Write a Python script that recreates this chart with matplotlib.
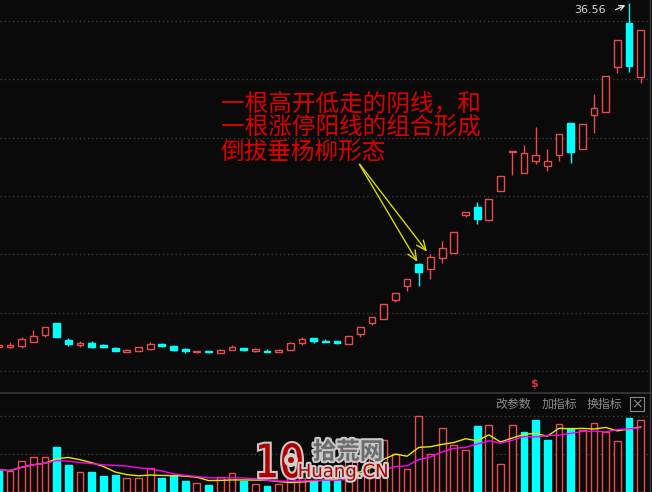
import numpy as np
import pandas as pd
import matplotlib
matplotlib.use("Agg")
import matplotlib.pyplot as plt
from matplotlib.patches import Rectangle, PathPatch, Circle
from matplotlib.textpath import TextPath
from matplotlib.font_manager import FontProperties
from matplotlib.transforms import Affine2D, IdentityTransform
import matplotlib.patheffects as pe

plt.rcParams['font.family'] = ['Noto Sans CJK SC', 'DejaVu Sans']

# daily bars, oldest first (first one is cut by the left edge)
opens = [7.08, 7.00, 7.15, 7.50, 8.07, 9.07, 7.67, 7.21, 7.39, 7.19,
         6.98, 6.64, 6.72, 6.87, 7.30, 7.13, 6.85, 6.62, 6.67, 6.55,
         6.78, 6.93, 6.70, 6.70, 6.61, 6.78, 7.39, 7.79, 7.56, 7.53,
         7.30, 8.16, 9.13, 9.44, 11.07, 12.27, 14.13, 13.71, 14.65, 15.08,
         18.34, 19.07, 17.93, 20.45, 23.79, 21.99, 23.02, 22.57, 23.48, 26.28,
         24.05, 26.98, 27.22, 31.03, 34.85, 30.22]
closes = [7.20, 7.21, 7.73, 7.99, 8.73, 7.90, 7.30, 7.39, 7.04, 7.03,
          6.72, 6.81, 7.04, 7.27, 7.13, 6.78, 6.72, 6.74, 6.59, 6.78,
          7.07, 6.78, 6.87, 6.61, 6.78, 7.36, 7.70, 7.58, 7.44, 7.39,
          8.01, 8.78, 9.64, 10.70, 11.70, 12.85, 13.47, 14.73, 15.51, 16.93,
          18.65, 17.99, 19.76, 21.71, 23.88, 23.65, 23.53, 23.02, 25.34, 23.79,
          26.17, 27.54, 30.26, 33.37, 31.17, 34.23]
highs = [7.30, 7.44, 7.90, 8.50, 8.73, 9.07, 7.79, 7.56, 7.56, 7.27,
         7.07, 6.90, 7.04, 7.44, 7.41, 7.24, 6.96, 6.74, 6.67, 6.90,
         7.24, 6.93, 6.93, 6.85, 6.87, 7.47, 7.87, 7.79, 7.73, 7.53,
         8.01, 8.78, 9.64, 10.70, 11.70, 12.85, 14.25, 15.02, 16.16, 16.93,
         18.65, 19.50, 19.76, 21.71, 23.88, 24.34, 25.94, 24.05, 25.34, 26.28,
         26.17, 28.74, 30.26, 33.37, 36.56, 34.23]
lows = [7.04, 6.98, 6.93, 7.50, 7.90, 7.90, 7.15, 7.07, 6.96, 6.98,
        6.72, 6.64, 6.72, 6.78, 7.02, 6.72, 6.55, 6.53, 6.50, 6.55,
        6.78, 6.67, 6.61, 6.61, 6.61, 6.78, 7.19, 7.36, 7.44, 7.27,
        7.30, 7.87, 8.90, 9.44, 10.90, 11.87, 12.27, 12.85, 14.22, 15.08,
        18.17, 17.59, 17.82, 20.45, 21.77, 21.99, 22.71, 22.11, 22.97, 22.85,
        24.05, 25.42, 27.22, 30.52, 30.65, 29.66]
volumes = [2.89, 2.76, 4.12, 4.57, 4.60, 5.88, 3.55, 2.63, 2.63, 2.11,
           2.24, 1.84, 1.84, 3.12, 1.84, 2.15, 1.49, 1.14, 0.92, 1.93,
           2.46, 1.49, 1.05, 0.79, 1.05, 1.84, 1.84, 1.58, 1.58, 1.58,
           4.43, 4.21, 4.47, 6.84, 5.00, 3.03, 10.00, 4.96, 8.38, 6.18,
           5.53, 8.68, 8.82, 3.68, 8.82, 7.86, 9.47, 6.84, 8.95, 8.46,
           8.16, 9.04, 7.86, 6.71, 9.70, 9.47]
prev_close = 7.30
high_label = "36.56"
note_lines = ["一根高开低走的阴线，和", "一根涨停阳线的组合形成", "倒拔垂杨柳形态"]
buttons = ["改参数", "加指标", "换指标"]

BG = '#0a0a0a'
RED = '#e84c4c'
CYAN = '#00ffff'
GRID = '#3c3c3c'
W, H = 652, 492

o = np.array(opens); c = np.array(closes)
h = np.array(highs); l = np.array(lows)
v = np.array(volumes)
n = len(o)
pos = np.arange(n)

fig = plt.figure(figsize=(W / 100, H / 100), dpi=100, facecolor=BG)


def box(x0, y0, x1, y1):
    return [x0 / W, 1 - y1 / H, (x1 - x0) / W, (y1 - y0) / H]


ax = fig.add_axes(box(0, 0, 649, 392), facecolor=BG)
axv = fig.add_axes(box(0, 393, 649, 492), facecolor=BG)

xlim = (0.144, 55.71)
for a in (ax, axv):
    a.set_xlim(*xlim)
    for s in a.spines.values():
        s.set_visible(False)
    a.tick_params(left=False, bottom=False, labelleft=False, labelbottom=False)
    a.grid(axis='y', color=GRID, linestyle=(0, (1, 2)), lw=1)
    a.set_axisbelow(True)

ax.set_ylim(3.182, 36.801)
ax.set_yticks(np.arange(5, 36, 5))
axv.set_ylim(0, 13.03)
axv.set_yticks([5, 10])

# candles
w = 0.58
for i in range(n):
    up = c[i] >= o[i]
    col = RED if up else CYAN
    top, bot = max(o[i], c[i]), min(o[i], c[i])
    if h[i] > top:
        ax.vlines(i, top, h[i], color=col, lw=1)
    if l[i] < bot:
        ax.vlines(i, l[i], bot, color=col, lw=1)
    if top - bot < 0.04:
        ax.hlines(top, i - w / 2, i + w / 2, color=col, lw=1.3)
    else:
        ax.add_patch(Rectangle((i - w / 2, bot), w, top - bot, lw=1,
                               edgecolor=col, facecolor=BG if up else col))

# volume, coloured by close vs previous close
vol_up = c >= np.r_[prev_close, c[:-1]]
for i in range(n):
    if vol_up[i]:
        axv.add_patch(Rectangle((i - w / 2, 0), w, v[i], lw=1,
                                edgecolor=RED, facecolor=BG))
    else:
        axv.add_patch(Rectangle((i - w / 2, 0), w, v[i], lw=1,
                                edgecolor=CYAN, facecolor=CYAN))
vs = pd.Series(v)
axv.plot(pos, vs.rolling(5, min_periods=1).mean(), color='#e8e800', lw=1, zorder=5)
axv.plot(pos, vs.rolling(10, min_periods=1).mean(), color='#ff00ff', lw=1, zorder=5)

# frame lines
fig.add_artist(plt.Line2D([0, 1], [1 - 392.5 / H] * 2, color='#3a3a3a', lw=1.2))
fig.add_artist(plt.Line2D([649.5 / W] * 2, [0, 1], color='#3a3a3a', lw=1))

# high label + arrow
top_i = int(np.argmax(h))
fig.text(590 / W, 1 - 10 / H, high_label, color='#d8d8d8', fontsize=8,
         family='DejaVu Sans', ha='center', va='center')
ax.annotate('', xy=(top_i - 0.1, h[top_i] - 0.1), xycoords='data',
            xytext=(613, H - 11), textcoords='figure pixels',
            arrowprops=dict(arrowstyle='->,head_length=0.35,head_width=0.18',
                            color='#e8e8e8', lw=0.9))

# note text
for txt, yc in zip(note_lines, [104, 128.5, 152.5]):
    fig.text(221 / W, 1 - yc / H, txt, color='#dd0000', fontsize=17,
             fontweight='light', ha='left', va='center')

# yellow arrows to the two key candles
yin_i, yang_i = 36, 37
for xy in [(yin_i, o[yin_i]), (yang_i - 0.15, h[yang_i])]:
    ax.annotate('', xy=xy, xycoords='data',
                xytext=(358, H - 162), textcoords='figure pixels',
                arrowprops=dict(arrowstyle='->,head_length=0.7,head_width=0.3',
                                color='#d8d800', lw=1))

# marker under the chart
fig.text(534 / W, 1 - 384 / H, '$', color='#e03030', fontsize=8,
         family='DejaVu Sans', fontweight='bold', ha='center', va='center')

# buttons of the volume panel
for txt, xc in zip(buttons, [513.5, 559, 604]):
    fig.text(xc / W, 1 - 404.5 / H, txt, color='#8a8a8a', fontsize=8.6,
             ha='center', va='center')
fig.add_artist(Rectangle((630 / W, 1 - 411 / H), 14 / W, 14 / H,
                         transform=fig.transFigure, facecolor='none',
                         edgecolor='#8a8a8a', lw=0.8))
fig.text(637 / W, 1 - 404 / H, '×', color='#8a8a8a', fontsize=10,
         family='DejaVu Sans', ha='center', va='center')

# watermark logo
tp = TextPath((0, 0), "10", size=1, prop=FontProperties(family='DejaVu Sans', weight='bold'))
ext = tp.get_extents()
tr = (Affine2D().translate(-ext.x0, -ext.y0)
      .scale(45 / ext.width, 37 / ext.height).translate(258, H - 479))
fig.add_artist(PathPatch(tr.transform_path(tp), facecolor='#b00000',
                         edgecolor='#c8c8c8', lw=1.5, transform=IdentityTransform(),
                         zorder=10))
fig.add_artist(Circle((291, H - 460), 7, facecolor='#d0d0d0', edgecolor='none',
                      transform=IdentityTransform(), zorder=11))
fig.add_artist(Circle((291, H - 460), 3, facecolor='#b00000', edgecolor='none',
                      transform=IdentityTransform(), zorder=12))
fig.text(348 / W, 1 - 452 / H, '拾荒网', color='#6c6c6c', fontsize=17,
         fontweight='bold', ha='center', va='center', zorder=10,
         path_effects=[pe.withStroke(linewidth=3, foreground='#c8c8c8')])
fig.text(343 / W, 1 - 472 / H, 'Huang.CN', color='#b00000', fontsize=13,
         family='DejaVu Sans', ha='center', va='center', zorder=10,
         path_effects=[pe.withStroke(linewidth=3, foreground='#d0d0d0')])

fig.savefig('out.png', dpi=100, facecolor=BG)
